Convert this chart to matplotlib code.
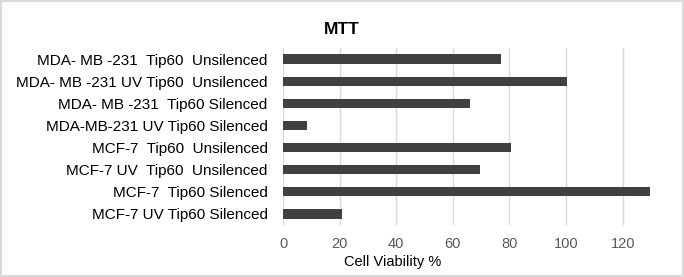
import matplotlib
matplotlib.use("Agg")
import matplotlib.pyplot as plt
from matplotlib.patches import Rectangle

categories = [
    "MDA- MB -231  Tip60  Unsilenced",
    "MDA- MB -231 UV Tip60  Unsilenced",
    "MDA- MB -231  Tip60 Silenced",
    "MDA-MB-231 UV Tip60 Silenced",
    "MCF-7  Tip60  Unsilenced",
    "MCF-7 UV  Tip60  Unsilenced",
    "MCF-7  Tip60 Silenced",
    "MCF-7 UV Tip60 Silenced",
]
values = [77, 100.3, 66.1, 8.5, 80.4, 69.5, 129.6, 20.8]
xticks = [0, 20, 40, 60, 80, 100, 120]

plt.rcParams['font.family'] = ['Liberation Sans', 'DejaVu Sans']

fig = plt.figure(figsize=(6.84, 2.77), dpi=100)
ax = fig.add_axes([283/684, 1-225/277, (651-283)/684, (225-48)/277])

ypos = list(range(len(categories)))
ax.barh(ypos, values, height=0.42, color='#404040', zorder=3)
ax.set_ylim(len(categories)-0.5, -0.5)
ax.set_xlim(0, 130)
ax.set_yticks(ypos)
ax.set_yticklabels(categories, fontsize=11, color='#000000')
ax.set_xticks(xticks)
ax.set_xticklabels([str(t) for t in xticks], fontsize=10.5, color='#595959')
ax.tick_params(axis='both', length=0)
ax.tick_params(axis='x', pad=9)
ax.tick_params(axis='y', pad=11)
for s in ax.spines.values():
    s.set_visible(False)
ax.grid(axis='x', color='#d9d9d9', linewidth=1, zorder=0)

fig.text(393/684, 1-262/277, "Cell Viability %", ha='center', va='center',
         fontsize=10.5, color='#000000')
fig.text(342/684, 1-30/277, "MTT", ha='center', va='center', fontsize=12.5, fontweight='bold')

fig.patches.append(Rectangle((0.002, 0.004), 0.996, 0.992, transform=fig.transFigure,
                             fill=False, edgecolor='#d9d9d9', linewidth=1.5))

fig.savefig("out.png", dpi=100)
